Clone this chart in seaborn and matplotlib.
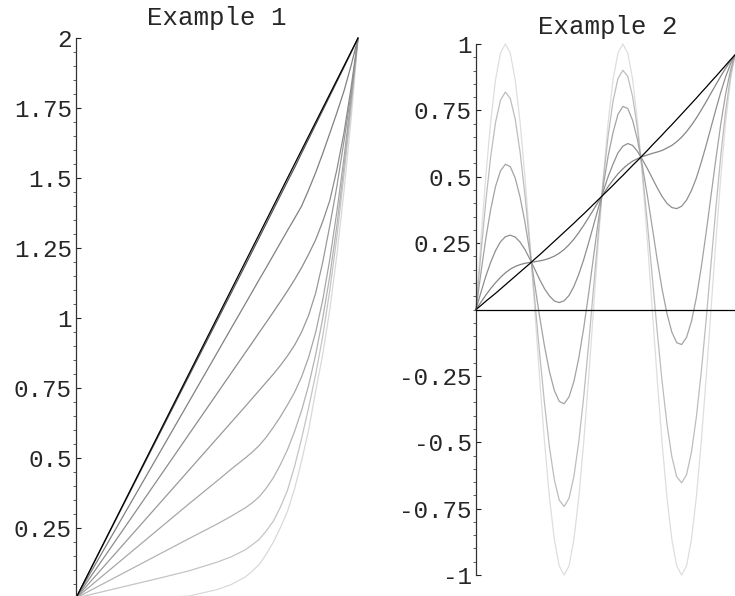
import matplotlib
matplotlib.use("Agg")
import matplotlib.pyplot as plt
import seaborn as sns
from matplotlib.ticker import MultipleLocator

# ---- Example 1: curves from (0,0) to (1,2)
x1 = [0, 0.1, 0.2, 0.3, 0.4, 0.5, 0.55, 0.6, 0.625, 0.65, 0.675, 0.7, 0.725, 0.75, 0.775, 0.8,
      0.825, 0.85, 0.875, 0.9, 0.925, 0.95, 0.975, 1.0]
ex1_a = [0, 0.2, 0.4, 0.6, 0.8, 1.0, 1.1, 1.2, 1.25, 1.3, 1.35, 1.4, 1.45, 1.5, 1.55, 1.6,
         1.65, 1.7, 1.75, 1.8, 1.85, 1.9, 1.95, 2.0]
ex1_b = [0, 0.198, 0.396, 0.594, 0.792, 0.99, 1.089, 1.188, 1.238, 1.288, 1.338, 1.388, 1.438,
         1.488, 1.537, 1.589, 1.64, 1.691, 1.742, 1.793, 1.844, 1.895, 1.947, 2.0]
ex1_c = [0, 0.175, 0.35, 0.525, 0.70, 0.875, 0.963, 1.05, 1.094, 1.138, 1.181, 1.225, 1.269,
         1.313, 1.356, 1.40, 1.458, 1.52, 1.588, 1.66, 1.733, 1.81, 1.90, 2.0]
ex1_d = [0, 0.146, 0.292, 0.438, 0.584, 0.73, 0.803, 0.876, 0.912, 0.949, 0.985, 1.022, 1.059,
         1.097, 1.137, 1.18, 1.228, 1.28, 1.345, 1.42, 1.53, 1.66, 1.82, 2.0]
ex1_e = [0, 0.114, 0.228, 0.342, 0.456, 0.57, 0.627, 0.684, 0.713, 0.742, 0.771, 0.80, 0.831,
         0.865, 0.903, 0.95, 1.01, 1.09, 1.20, 1.33, 1.47, 1.63, 1.80, 2.0]
ex1_f = [0, 0.084, 0.168, 0.252, 0.336, 0.418, 0.46, 0.50, 0.521, 0.545, 0.575, 0.61, 0.648,
         0.69, 0.735, 0.79, 0.86, 0.95, 1.065, 1.21, 1.38, 1.57, 1.78, 2.0]
ex1_g = [0, 0.053, 0.106, 0.159, 0.212, 0.264, 0.292, 0.322, 0.34, 0.362, 0.393, 0.43, 0.477,
         0.53, 0.595, 0.67, 0.76, 0.87, 1.00, 1.15, 1.33, 1.54, 1.765, 2.0]
ex1_h = [0, 0.024, 0.048, 0.072, 0.097, 0.128, 0.147, 0.172, 0.19, 0.21, 0.24, 0.275, 0.325,
         0.385, 0.47, 0.57, 0.68, 0.80, 0.935, 1.10, 1.29, 1.51, 1.745, 2.0]
ex1_i = [0, 0, 0.001, 0.002, 0.007, 0.03, 0.048, 0.075, 0.096, 0.12, 0.157, 0.20, 0.252,
         0.31, 0.39, 0.49, 0.60, 0.74, 0.87, 1.03, 1.225, 1.45, 1.705, 2.0]
ex1_colors = ["#000000", "#555555", "#808080", "#8c8c8c", "#999999",
              "#a6a6a6", "#b3b3b3", "#c4c4c4", "#d9d9d9"]

# ---- Example 2: the straight-ish line and the oscillating curves
x2 = [0, 0.0189, 0.0378, 0.0567, 0.0756, 0.0945, 0.1134, 0.1323, 0.1512, 0.1701,
      0.1890, 0.2079, 0.2268, 0.2457, 0.2647, 0.2836, 0.3025, 0.3214, 0.3403, 0.3592,
      0.3781, 0.3970, 0.4159, 0.4348, 0.4537, 0.4726, 0.4915, 0.5104, 0.5293, 0.5482,
      0.5671, 0.5860, 0.6049, 0.6238, 0.6427, 0.6616, 0.6805, 0.6994, 0.7183, 0.7372,
      0.7561, 0.7750, 0.7940, 0.8129, 0.8318, 0.8507, 0.8696, 0.8885, 0.9074, 0.9263,
      0.9452, 0.9641, 0.9830, 1.0]
ex2_line = [0, 0.015, 0.031, 0.046, 0.061, 0.077, 0.093, 0.109, 0.125, 0.141,
            0.157, 0.173, 0.190, 0.206, 0.223, 0.240, 0.257, 0.274, 0.291, 0.308,
            0.325, 0.343, 0.360, 0.378, 0.396, 0.414, 0.432, 0.450, 0.468, 0.487,
            0.505, 0.524, 0.543, 0.561, 0.580, 0.599, 0.619, 0.638, 0.657, 0.677,
            0.696, 0.716, 0.736, 0.756, 0.776, 0.796, 0.817, 0.837, 0.858, 0.878,
            0.899, 0.920, 0.941, 0.959]
ex2_w05 = [0, 0.027, 0.054, 0.079, 0.101, 0.121, 0.138, 0.152, 0.162, 0.169,
           0.174, 0.177, 0.180, 0.183, 0.187, 0.193, 0.201, 0.212, 0.226, 0.244,
           0.265, 0.290, 0.317, 0.346, 0.376, 0.406, 0.435, 0.463, 0.488, 0.511,
           0.530, 0.546, 0.559, 0.568, 0.576, 0.582, 0.588, 0.593, 0.599, 0.608,
           0.618, 0.632, 0.649, 0.670, 0.694, 0.721, 0.751, 0.782, 0.815, 0.847,
           0.879, 0.909, 0.937, 0.959]
ex2_w20 = [0, 0.064, 0.125, 0.178, 0.222, 0.255, 0.274, 0.280, 0.273, 0.254,
           0.226, 0.190, 0.152, 0.113, 0.078, 0.051, 0.032, 0.026, 0.033, 0.053,
           0.087, 0.133, 0.188, 0.251, 0.317, 0.383, 0.446, 0.501, 0.548, 0.590,
           0.615, 0.625, 0.618, 0.595, 0.564, 0.531, 0.495, 0.459, 0.426, 0.400,
           0.384, 0.380, 0.389, 0.412, 0.448, 0.495, 0.554, 0.618, 0.686, 0.754,
           0.819, 0.877, 0.926, 0.959]
ex2_w50 = [0, 0.137, 0.266, 0.377, 0.464, 0.522, 0.547, 0.538, 0.496, 0.424,
           0.329, 0.216, 0.095, -0.027, -0.139, -0.234, -0.305, -0.346, -0.355, -0.329,
           -0.271, -0.182, -0.070, 0.059, 0.198, 0.336, 0.466, 0.579, 0.667, 0.735,
           0.765, 0.757, 0.712, 0.638, 0.540, 0.429, 0.310, 0.189, 0.078, -0.015,
           -0.085, -0.125, -0.132, -0.105, -0.045, 0.044, 0.158, 0.289, 0.429, 0.568,
           0.699, 0.813, 0.903, 0.959]
ex2_w80 = [0, 0.210, 0.406, 0.575, 0.705, 0.788, 0.819, 0.795, 0.718, 0.594,
           0.431, 0.242, 0.038, -0.166, -0.355, -0.518, -0.641, -0.718, -0.742, -0.711,
           -0.628, -0.497, -0.328, -0.132, 0.079, 0.290, 0.486, 0.656, 0.786, 0.870,
           0.901, 0.878, 0.801, 0.678, 0.516, 0.327, 0.124, -0.080, -0.269, -0.430,
           -0.554, -0.630, -0.653, -0.622, -0.538, -0.406, -0.237, -0.040, 0.172, 0.383,
           0.580, 0.750, 0.881, 0.959]
ex2_sine = [0, 0.259, 0.5, 0.707, 0.866, 0.966, 1, 0.966, 0.866, 0.707,
            0.5, 0.259, 0, -0.259, -0.5, -0.707, -0.866, -0.966, -1, -0.966,
            -0.866, -0.707, -0.5, -0.259, 0, 0.259, 0.5, 0.707, 0.866, 0.966,
            1, 0.966, 0.866, 0.707, 0.5, 0.259, 0, -0.259, -0.5, -0.707,
            -0.866, -0.966, -1, -0.966, -0.866, -0.707, -0.5, -0.259, 0, 0.259,
            0.5, 0.707, 0.866, 0.959]
ex2_colors = ["#000000", "#858585", "#8f8f8f", "#a3a3a3", "#bdbdbd", "#dedede"]

ticks1 = [0.25, 0.5, 0.75, 1, 1.25, 1.5, 1.75, 2]
labels1 = ["0.25", "0.5", "0.75", "1", "1.25", "1.5", "1.75", "2"]
ticks2 = [-1, -0.75, -0.5, -0.25, 0.25, 0.5, 0.75, 1]
labels2 = ["-1", "-0.75", "-0.5", "-0.25", "0.25", "0.5", "0.75", "1"]

sns.set_theme(style="white")
plt.rcParams["font.family"] = ["Liberation Mono", "DejaVu Sans Mono"]

fig = plt.figure(figsize=(7.35, 5.96), dpi=100)
ax1 = fig.add_axes([0.1034, -0.0034, 0.3837, 0.9396])
ax2 = fig.add_axes([0.6476, 0.0352, 0.3524, 0.8910])

curves1 = [ex1_a, ex1_b, ex1_c, ex1_d, ex1_e, ex1_f, ex1_g, ex1_h, ex1_i]
for ys, c in reversed(list(zip(curves1, ex1_colors))):
    sns.lineplot(x=x1, y=ys, ax=ax1, color=c, linewidth=0.9, clip_on=False)

curves2 = [ex2_line, ex2_w05, ex2_w20, ex2_w50, ex2_w80, ex2_sine]
for ys, c in reversed(list(zip(curves2, ex2_colors))):
    sns.lineplot(x=x2, y=ys, ax=ax2, color=c, linewidth=0.9, clip_on=False)

def style_axis(ax, ymin, ymax, ticks, labels):
    ax.set_xlim(0, 1)
    ax.set_ylim(ymin, ymax)
    ax.set_facecolor("none")
    ax.set_xticks([])
    ax.set_yticks(ticks)
    ax.set_yticklabels(labels)
    ax.yaxis.set_minor_locator(MultipleLocator(0.05))
    ax.tick_params(axis="y", which="major", direction="in", length=3.5, width=0.8,
                   color="#222222", labelsize=17.5, pad=3, left=True)
    ax.tick_params(axis="y", which="minor", direction="out", length=2, width=0.6,
                   color="#444444", left=True)
    ax.set_xlabel("")
    ax.set_ylabel("")
    for s in ["top", "right"]:
        ax.spines[s].set_visible(False)
    ax.spines["left"].set_color("#333333")
    ax.spines["left"].set_linewidth(0.9)

style_axis(ax1, 0, 2, ticks1, labels1)
ax1.spines["bottom"].set_visible(False)

style_axis(ax2, -1, 1, ticks2, labels2)
ax2.spines["bottom"].set_position(("data", 0))
ax2.spines["bottom"].set_color("#000000")
ax2.spines["bottom"].set_linewidth(0.9)

fig.text(0.2952, 0.9698, "Example 1", ha="center", va="center", fontsize=18.5)
fig.text(0.8272, 0.9539, "Example 2", ha="center", va="center", fontsize=18.5)

fig.savefig("out.png", dpi=100, facecolor="white")
